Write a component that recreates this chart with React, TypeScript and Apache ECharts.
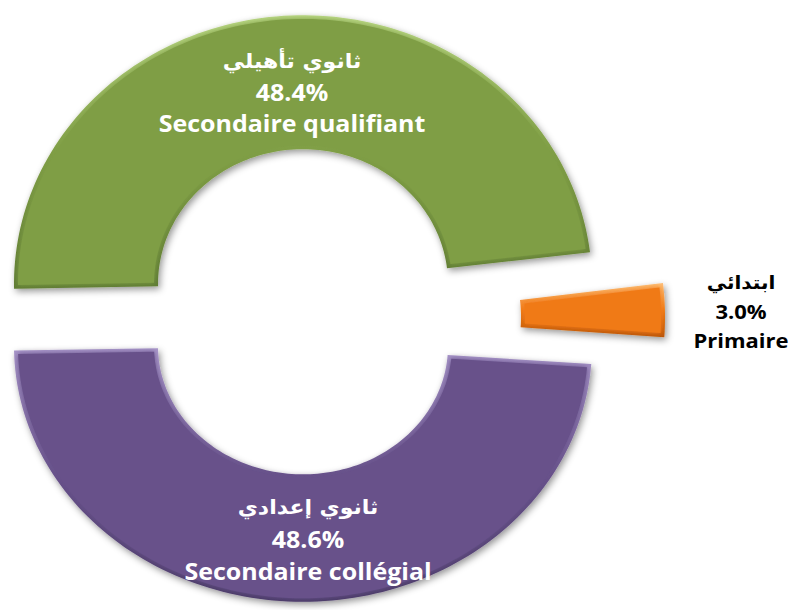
import React, { useEffect, useRef } from 'react';
import * as echarts from 'echarts';

// ---- data ----
const labelsAr = ['ثانوي تأهيلي', 'ابتدائي', 'ثانوي إعدادي'];
const labelsFr = ['Secondaire qualifiant', 'Primaire', 'Secondaire collégial'];
const shares = [48.4, 3.0, 48.6];

// ---- geometry / style (not data) ----
const START_ANGLE = 181;
const OUTER_R = 289;
const INNER_R = 145;
const BEVEL = 4;

const sliceLayout = [
  { cx: 303, cy: 284, ys: 0.93, lx: 292, ly: 92, fs: 25, ar: 22, lh: 34 },
  { cx: 376, cy: 317, ys: 1.0, lx: 741, ly: 311, fs: 22, ar: 20, lh: 31 },
  { cx: 303, cy: 346, ys: 0.885, lx: 308, ly: 539, fs: 25, ar: 22, lh: 35 },
];
const sliceColors = [
  { base: '#7F9E45', light: '#B9D784', dark: '#5E7A33', text: '#FFFFFF' },
  { base: '#F07A18', light: '#FDBF7A', dark: '#B95406', text: '#000000' },
  { base: '#67518A', light: '#A896C9', dark: '#4A3A66', text: '#FFFFFF' },
];

type Lay = { cx: number; cy: number; ys: number };

function ringPoints(L: Lay, a0: number, a1: number, inset: number): number[][] {
  const pts: number[][] = [];
  const N = 120;
  const rOut = OUTER_R - inset;
  const rIn = INNER_R + inset;
  const dOut = inset ? (inset / rOut) * (180 / Math.PI) : 0;
  const dIn = inset ? (inset / rIn) * (180 / Math.PI) : 0;
  const s0 = a0 - dOut, e0 = a1 + dOut;
  for (let k = 0; k <= N; k++) {
    const a = ((s0 + (e0 - s0) * (k / N)) * Math.PI) / 180;
    pts.push([L.cx + rOut * Math.cos(a), L.cy - rOut * L.ys * Math.sin(a)]);
  }
  const s1 = a0 - dIn, e1 = a1 + dIn;
  for (let k = N; k >= 0; k--) {
    const a = ((s1 + (e1 - s1) * (k / N)) * Math.PI) / 180;
    pts.push([L.cx + rIn * Math.cos(a), L.cy - rIn * L.ys * Math.sin(a)]);
  }
  return pts;
}

export default function App() {
  const ref = useRef<HTMLDivElement>(null);
  useEffect(() => {
    if (!ref.current) return;
    const chart = echarts.init(ref.current, null, { renderer: 'svg' });
    const total = shares.reduce((a, b) => a + b, 0);
    chart.setOption({
      animation: false,
      backgroundColor: '#ffffff',
      series: [
        {
          type: 'custom',
          coordinateSystem: 'none',
          data: shares.map((v, i) => ({ value: [v], name: labelsFr[i] })),
          renderItem: (params: any, api: any) => {
            const i = params.dataIndex;
            const v = api.value(0) as number;
            const before = shares.slice(0, i).reduce((a, b) => a + b, 0);
            const a0 = START_ANGLE - (before / total) * 360;
            const a1 = a0 - (v / total) * 360;
            const L = sliceLayout[i];
            const C = sliceColors[i];
            const pct = ((v / total) * 100).toFixed(1) + '%';
            return {
              type: 'group',
              children: [
                {
                  type: 'polygon',
                  shape: { points: ringPoints(L, a0, a1, 0) },
                  style: {
                    fill: new echarts.graphic.LinearGradient(0, 0, 0, 1, [
                      { offset: 0, color: C.light },
                      { offset: 0.5, color: C.base },
                      { offset: 1, color: C.dark },
                    ]),
                    shadowBlur: 7,
                    shadowOffsetX: 2,
                    shadowOffsetY: 3,
                    shadowColor: 'rgba(0,0,0,0.4)',
                  },
                },
                {
                  type: 'polygon',
                  shape: { points: ringPoints(L, a0, a1, BEVEL) },
                  style: { fill: C.base, shadowBlur: 5, shadowColor: C.base },
                },
                {
                  type: 'text',
                  x: L.lx,
                  y: L.ly,
                  scaleY: 0.92,
                  style: {
                    text: `{ar|${labelsAr[i]}}\n{n|${pct}}\n{n|${labelsFr[i]}}`,
                    x: 0,
                    y: 0,
                    align: 'center',
                    verticalAlign: 'middle',
                    rich: {
                      ar: {
                        fontFamily: 'DejaVu Sans',
                        fontWeight: 'bold',
                        fontSize: L.ar,
                        fill: C.text,
                        lineHeight: L.lh,
                      },
                      n: {
                        fontFamily: '"Open Sans", sans-serif',
                        fontWeight: 'bold',
                        fontSize: L.fs,
                        fill: C.text,
                        lineHeight: L.lh,
                      },
                    },
                  },
                },
              ],
            };
          },
        },
      ],
    });
    return () => chart.dispose();
  }, []);
  return (
    <div
      ref={ref}
      style={{ position: 'fixed', left: 0, top: 0, width: 792, height: 610 }}
    />
  );
}
